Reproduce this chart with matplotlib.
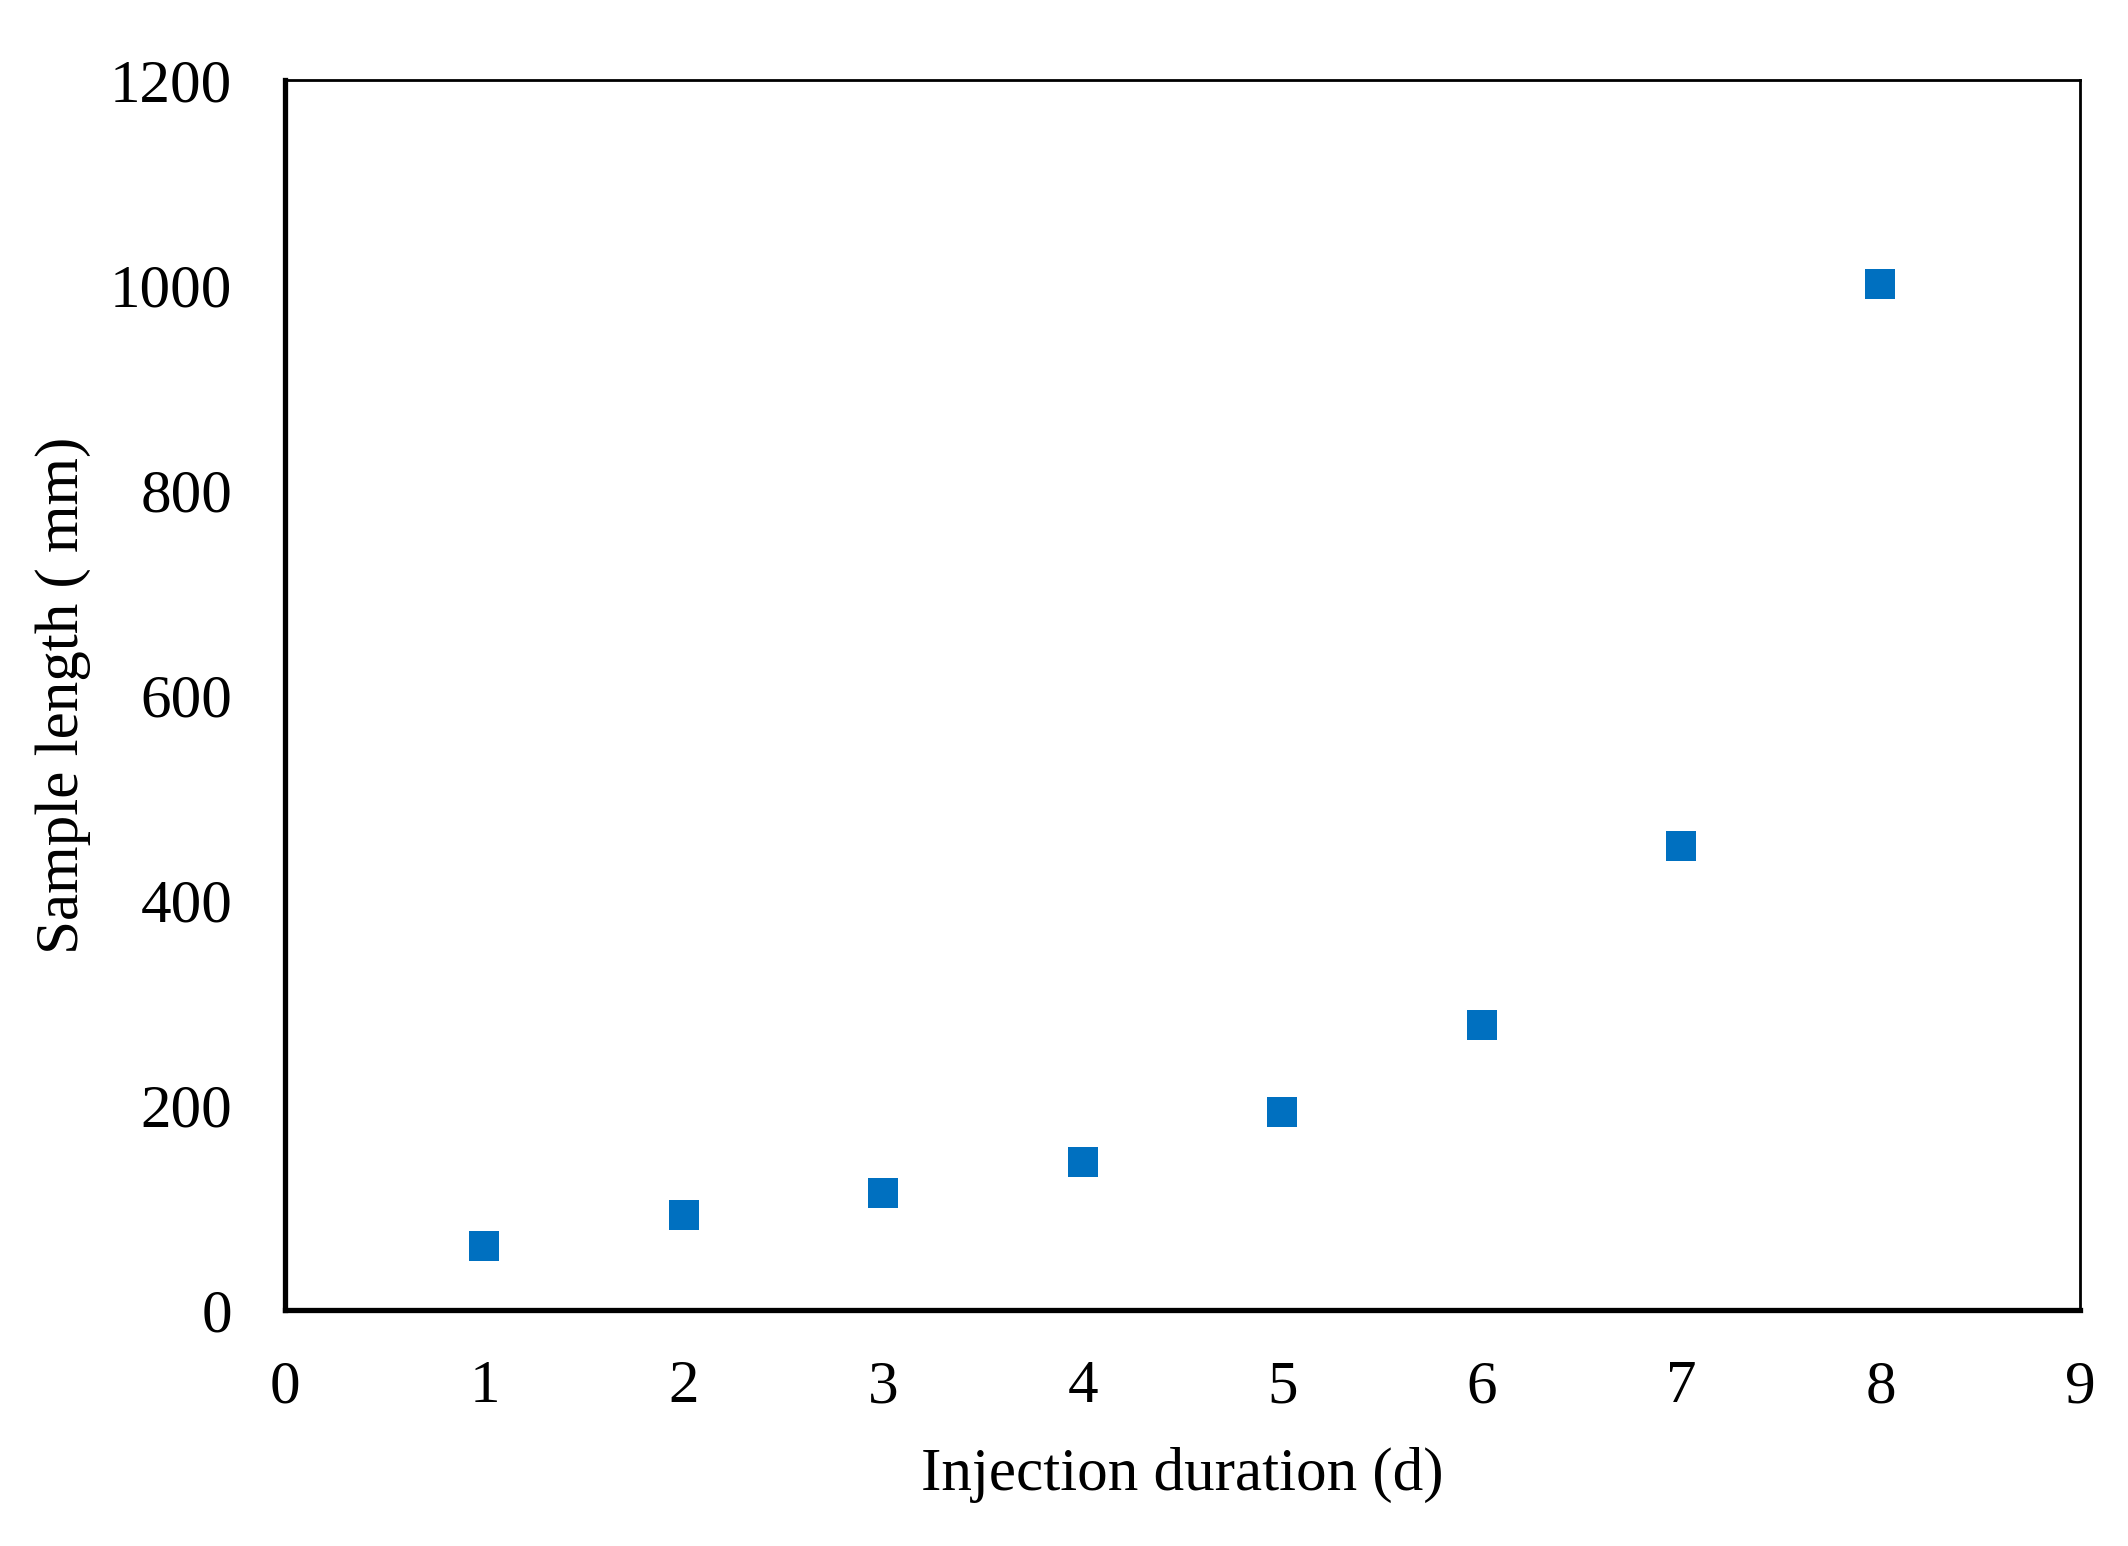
"""
Sample length vs injection duration, square markers.
"""

import matplotlib
matplotlib.use('Agg')
import matplotlib.pyplot as plt

# Data
duration_d = [1, 2, 3, 4, 5, 6, 7, 8]
sample_length_mm = [62, 93, 114, 144, 193, 278, 453, 1001]

x_ticks = [0, 1, 2, 3, 4, 5, 6, 7, 8, 9]
y_ticks = [0, 200, 400, 600, 800, 1000, 1200]

plt.rcParams['font.family'] = ['Liberation Serif', 'DejaVu Serif']
plt.rcParams['font.size'] = 44

fig = plt.figure(figsize=(21.28, 15.46), dpi=100)
ax = fig.add_axes([0.1339, 0.1527, 0.9774 - 0.1339, 0.9483 - 0.1527])

ax.plot(duration_d, sample_length_mm, linestyle='none', marker='s',
        markersize=21.5, color='#0070C0', markeredgewidth=0)

ax.set_xlim(0, 9)
ax.set_ylim(0, 1200)
ax.set_xticks(x_ticks)
ax.set_yticks(y_ticks)
ax.tick_params(axis='both', length=0)
ax.tick_params(axis='x', pad=36)
ax.tick_params(axis='y', pad=38)

# Thick left/bottom spines, thinner top/right like the original
for side in ['left', 'bottom']:
    ax.spines[side].set_linewidth(3.8)
for side in ['top', 'right']:
    ax.spines[side].set_linewidth(2.0)

ax.set_xlabel('Injection duration (d)')
ax.set_ylabel('Sample length ( mm)')
ax.xaxis.set_label_coords(0.5, -0.111)
ax.yaxis.set_label_coords(-0.108, 0.5)

plt.savefig('out.png', dpi=100)
plt.close()
